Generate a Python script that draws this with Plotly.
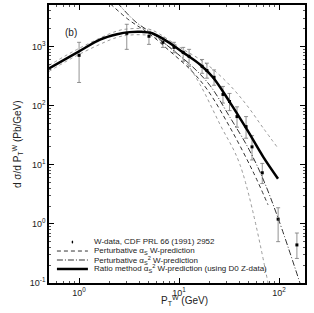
import plotly.graph_objects as go

# Data points (CDF W data)
data_pt = [1.0, 3.0, 5.0, 6.9, 8.9, 11.0, 12.6, 17.0, 19.0, 22.4, 27.5, 32.0, 38.0, 46.8, 53.7, 68.0, 98.0, 151.0]
data_y = [705, 1660, 1480, 1170, 960, 790, 680, 460, 390, 300, 154, 117, 65, 44, 20, 7.3, 1.2, 0.44]
data_hi = [1170, 2360, 1800, 1420, 1170, 960, 890, 600, 520, 400, 210, 160, 95, 65, 31, 10.5, 1.87, 0.7]
data_lo = [245, 890, 1080, 960, 780, 560, 460, 350, 290, 220, 110, 82, 43, 28, 12, 4.8, 0.5, 0.26]

# Ratio method prediction
ratio_pt = [0.5, 1.0, 1.62, 2.4, 3.2, 4.2, 5.3, 7.59, 10.96, 16.2, 21.9, 32.4, 47.9, 69.2, 97.7]
ratio_y = [424, 823, 1300, 1600, 1740, 1760, 1680, 1215, 791, 495, 298, 112, 39, 13.7, 5.8]

# Band edges around ratio method
band_up_pt = [0.5, 1.0, 2.4, 3.2, 4.2, 5.3, 10.96, 16.2, 21.9, 32.4, 47.9, 69.2, 97.7]
band_up_y = [477, 925, 1820, 1980, 2000, 1900, 890, 602, 408, 218, 100, 42, 19]
band_lo_pt = [0.5, 1.0, 2.4, 3.2, 4.2, 5.3, 8.13, 11.5, 16.2, 25.7, 40.7, 77.6]
band_lo_y = [377, 732, 1420, 1550, 1570, 1490, 962, 557, 227, 47.8, 10, 0.1]

# Perturbative alpha_s prediction
pert1_pt = [1.62, 3.09, 5.13, 8.13, 12.9, 19.1, 32.4, 55.0, 77.6]
pert1_y = [7600, 2870, 1600, 823, 408, 187, 42.4, 7.6, 2.1]

# Perturbative alpha_s^2 prediction
pert2_pt = [2.04, 3.63, 5.37, 8.5, 13.5, 20.4, 32.4, 49.0, 67.6, 97.7, 162.0]
pert2_y = [7600, 2650, 1660, 890, 460, 218, 62.7, 19.4, 6.3, 1.26, 0.1]

# Axis ticks
x_tickvals = [1, 10, 100]
x_ticktext = ["10<sup>0</sup>", "10<sup>1</sup>", "10<sup>2</sup>"]
y_tickvals = [0.1, 1, 10, 100, 1000]
y_ticktext = ["10<sup>-1</sup>", "10<sup>0</sup>", "10<sup>1</sup>", "10<sup>2</sup>", "10<sup>3</sup>"]

legend_labels = [
    "W-data, CDF PRL 66 (1991) 2952",
    "Perturbative α<sub>S</sub> W-prediction",
    "Perturbative α<sub>S</sub><sup>2</sup> W-prediction",
    "Ratio method α<sub>S</sub><sup>2</sup> W-prediction (using D0 Z-data)",
]

fig = go.Figure()

fig.add_trace(go.Scatter(x=band_up_pt, y=band_up_y, mode="lines", line=dict(color="#9a9a9a", width=1, dash="dot", shape="spline"), showlegend=False, hoverinfo="skip"))
fig.add_trace(go.Scatter(x=band_lo_pt, y=band_lo_y, mode="lines", line=dict(color="#9a9a9a", width=1, dash="dot", shape="spline"), showlegend=False, hoverinfo="skip"))

err_plus = [h - v for h, v in zip(data_hi, data_y)]
err_minus = [v - l for v, l in zip(data_y, data_lo)]
fig.add_trace(go.Scatter(
    x=data_pt, y=data_y, mode="markers",
    marker=dict(symbol="square", size=3, color="black"),
    error_y=dict(type="data", array=err_plus, arrayminus=err_minus, color="#777777", thickness=0.8, width=2),
    showlegend=False))

dash1 = "4px,3px"
dash2 = "6px,2px,1px,2px"
fig.add_trace(go.Scatter(x=pert1_pt, y=pert1_y, mode="lines", line=dict(color="#333333", width=1, dash=dash1, shape="spline"), showlegend=False))
fig.add_trace(go.Scatter(x=pert2_pt, y=pert2_y, mode="lines", line=dict(color="#333333", width=1, dash=dash2, shape="spline"), showlegend=False))
fig.add_trace(go.Scatter(x=ratio_pt, y=ratio_y, mode="lines", line=dict(color="black", width=2.5, shape="spline"), showlegend=False))

def minor_vals(lo_exp, hi_exp):
    vals = []
    for e in range(lo_exp, hi_exp + 1):
        for m in range(2, 10):
            vals.append(m * 10 ** e)
    return vals

axis_common = dict(
    type="log", showgrid=False, zeroline=False, showline=True, linecolor="black", linewidth=1.5,
    mirror="allticks", ticks="inside", ticklen=5, tickcolor="black", automargin=False,
    tickfont=dict(size=9, color="#222"),
)

fig.update_xaxes(range=[-0.301, 2.26], tickmode="array", tickvals=x_tickvals, ticktext=x_ticktext,
                 minor=dict(ticks="inside", ticklen=2.5, tickcolor="#555", tickmode="array", tickvals=minor_vals(-1, 2)),
                 **axis_common)
fig.update_yaxes(range=[-1, 3.699], tickmode="array", tickvals=y_tickvals, ticktext=y_ticktext,
                 minor=dict(ticks="inside", ticklen=2.5, tickcolor="#555", tickmode="array", tickvals=minor_vals(-1, 3)),
                 **axis_common)

# Axis titles
fig.add_annotation(text="P<sub>T</sub><sup>W</sup> (GeV)", xref="paper", yref="paper", x=0.53, y=-0.063,
                   showarrow=False, font=dict(size=10, color="#222"), xanchor="center", yanchor="middle")
fig.add_annotation(text="d σ/d P<sub>T</sub><sup>W</sup> (Pb/GeV)", xref="paper", yref="paper", x=-0.125, y=0.5,
                   showarrow=False, font=dict(size=10, color="#222"), textangle=-90, xanchor="center", yanchor="middle")

fig.add_annotation(text="(b)", xref="paper", yref="paper", x=0.055, y=0.9, showarrow=False,
                   font=dict(size=10, color="#222"), xanchor="left", yanchor="middle")

# Manual legend
leg_y = [0.1475, 0.115, 0.0827, 0.0504]
sx0, sx1, tx = 0.031, 0.152, 0.168
fig.add_shape(type="circle", xref="paper", yref="paper", x0=0.0885, x1=0.0945, y0=leg_y[0] - 0.0055, y1=leg_y[0] + 0.0055,
              fillcolor="black", line=dict(width=0))
fig.add_shape(type="line", xref="paper", yref="paper", x0=sx0, x1=sx1, y0=leg_y[1], y1=leg_y[1],
              line=dict(color="#333333", width=1, dash=dash1))
fig.add_shape(type="line", xref="paper", yref="paper", x0=sx0, x1=sx1, y0=leg_y[2], y1=leg_y[2],
              line=dict(color="#333333", width=1, dash=dash2))
fig.add_shape(type="line", xref="paper", yref="paper", x0=sx0, x1=sx1, y0=leg_y[3], y1=leg_y[3],
              line=dict(color="black", width=2.5))
for yy, lab in zip(leg_y, legend_labels):
    fig.add_annotation(text=lab, xref="paper", yref="paper", x=tx, y=yy, showarrow=False,
                       font=dict(size=8, color="#222"), xanchor="left", yanchor="middle")

fig.update_layout(
    width=314, height=313,
    margin=dict(l=49, r=9, t=5, b=30),
    paper_bgcolor="white", plot_bgcolor="white",
    font=dict(family="Liberation Sans, Arial, sans-serif", color="#222"),
    showlegend=False,
)

fig.write_html("out.html", config={"displayModeBar": False},
               post_script="document.body.style.margin='0';document.body.style.padding='0';document.body.style.overflow='hidden';")
